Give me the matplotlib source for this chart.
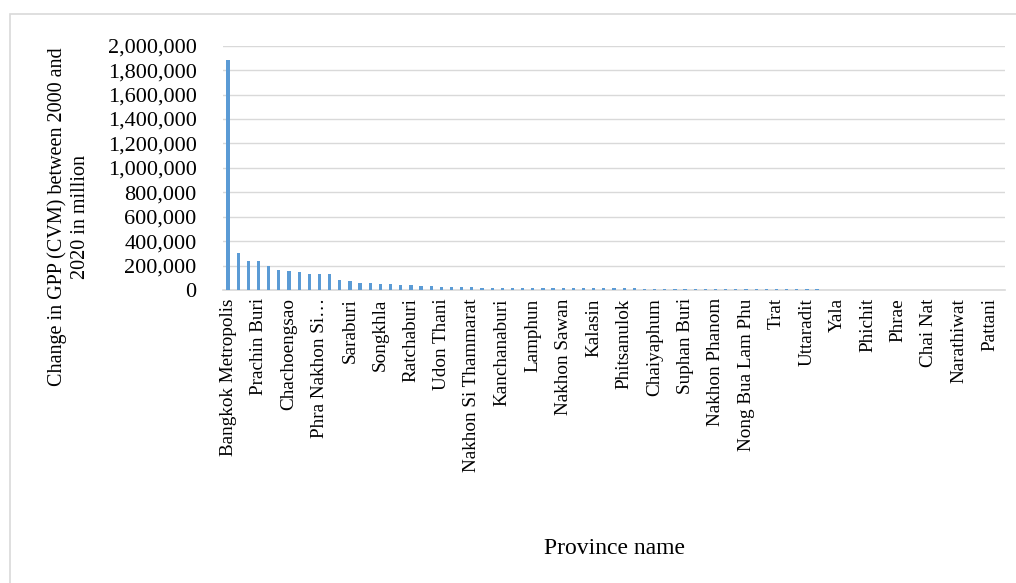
import numpy as np
import matplotlib
matplotlib.use("Agg")
import matplotlib.pyplot as plt
from matplotlib.patches import Rectangle
from matplotlib.ticker import FuncFormatter

plt.rcParams['font.family'] = ['Liberation Serif', 'DejaVu Serif']

# provinces, sorted by change in GPP (only every 3rd name is printed on the axis)
provinces = [
    "Bangkok Metropolis", "Chon Buri", "Rayong", "Prachin Buri", "Samut Prakan",
    "Samut Sakhon", "Chachoengsao", "Pathum Thani", "Nonthaburi",
    "Phra Nakhon Si Ayutthaya", "Nakhon Ratchasima", "Chiang Mai", "Saraburi",
    "Nakhon Pathom", "Surat Thani", "Songkhla", "Phuket", "Khon Kaen",
    "Ratchaburi", "Ubon Ratchathani", "Chiang Rai", "Udon Thani", "Lopburi",
    "Chanthaburi", "Nakhon Si Thammarat", "Phetchaburi", "Buriram",
    "Kanchanaburi", "Prachuap Khiri Khan", "Krabi", "Lamphun", "Sa Kaeo",
    "Kamphaeng Phet", "Nakhon Sawan", "Tak", "Roi Et", "Kalasin", "Lampang",
    "Surin", "Phitsanulok", "Sisaket", "Sakon Nakhon", "Chaiyaphum",
    "Phetchabun", "Trang", "Suphan Buri", "Maha Sarakham", "Nong Khai",
    "Nakhon Phanom", "Chumphon", "Loei", "Nong Bua Lam Phu", "Phatthalung",
    "Nakhon Nayok", "Trat", "Yasothon", "Mukdahan", "Uttaradit", "Sukhothai",
    "Phang Nga", "Yala", "Amnat Charoen", "Nan", "Phichit", "Phayao", "Ranong",
    "Phrae", "Ang Thong", "Samut Songkhram", "Chai Nat", "Sing Buri",
    "Uthai Thani", "Narathiwat", "Satun", "Bueng Kan", "Pattani", "Mae Hong Son",
]

# change in GPP (CVM) 2000-2020, million baht
gpp_change = [
    1885000, 300000, 240000, 236000, 197000, 164000, 157000, 151000, 132000,
    131000, 131000, 85000, 76000, 61000, 60000, 50000, 46000, 44000, 40000,
    35000, 30000, 27000, 26000, 25000, 21000, 20000, 20000, 19000, 19000,
    18000, 18000, 17000, 16000, 15500, 15000, 14500, 14000, 14000, 13500,
    13000, 12500, 11000, 10500, 10000, 9500, 9000, 8500, 8000, 7500, 6500,
    6000, 5800, 5500, 5300, 5000, 4800, 4600, 4400, 4200, 4000, 3800, 3600,
    3400, 3200, 3000, 2800, 2500, 1200, 1000, 900, 800, 700, 600, 500, 400,
    300, 200,
]

label_step = 3
y_ticks = [0, 200000, 400000, 600000, 800000, 1000000, 1200000, 1400000,
           1600000, 1800000, 2000000]

W, H = 1016, 583
fig = plt.figure(figsize=(W / 100, H / 100), dpi=100)

# light chart border (cut off at right/bottom like the original)
fig.patches.append(Rectangle((10 / W, -0.1), 1.1, 1 - 14 / H + 0.1,
                             transform=fig.transFigure, fill=False,
                             edgecolor="#D9D9D9", linewidth=1.2))

ax = fig.add_axes([223 / W, (H - 290) / H, 782 / W, 244.3 / H])
x = np.arange(len(provinces))
ax.bar(x, gpp_change, width=0.32, color="#5B9BD5", zorder=3)

ax.set_xlim(-0.5, len(provinces) - 0.5)
ax.set_ylim(0, 2000000)
ax.set_yticks(y_ticks)
ax.yaxis.set_major_formatter(FuncFormatter(lambda v, p: f"{int(v):,}"))
ax.grid(axis="y", color="#D9D9D9", linewidth=1.0, zorder=0)

# Excel cuts the longest name short
def short(name, n=14):
    return name if len(name) <= 20 else name[:n] + "\u2026"

ticks = x[::label_step]
ax.set_xticks(ticks)
ax.set_xticklabels([short(provinces[i]) for i in ticks], rotation=90,
                   fontsize=13.8)
ax.tick_params(axis="x", length=0, pad=6)
ax.tick_params(axis="y", length=0, pad=19, labelsize=16)

for s in ["top", "right", "left"]:
    ax.spines[s].set_visible(False)
ax.spines["bottom"].set_color("#D9D9D9")
ax.spines["bottom"].set_linewidth(1.2)

fig.text(69 / W, 1 - 217 / H,
         "Change in GPP (CVM) between 2000 and\n2020 in million",
         rotation=90, ha="center", va="center", fontsize=14.5,
         multialignment="center", linespacing=1.3)
fig.text(614 / W, 1 - 548 / H, "Province name", ha="center", va="center",
         fontsize=17)

fig.savefig("out.png", dpi=100)
